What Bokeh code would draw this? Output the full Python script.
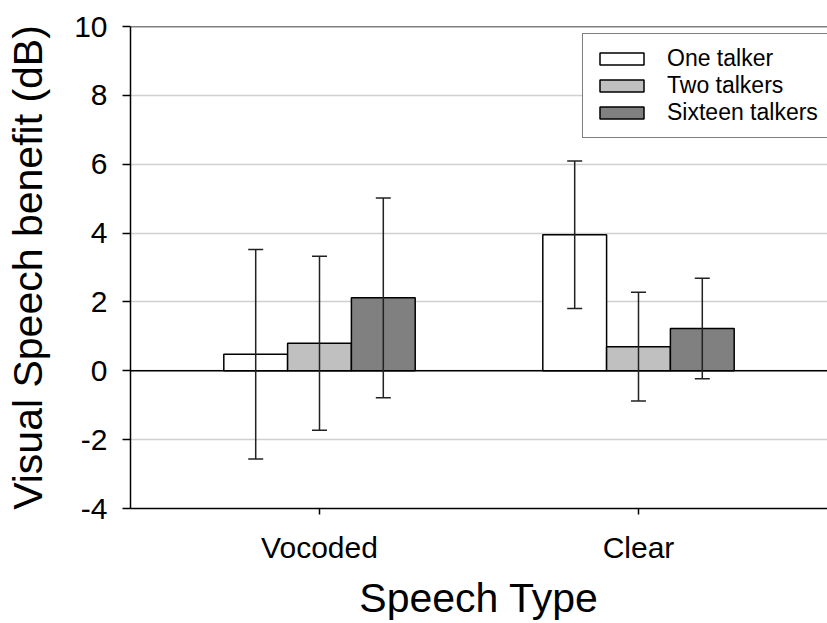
from bokeh.plotting import figure
from bokeh.models import (ColumnDataSource, FactorRange, Range1d, FixedTicker, Whisker,
                          TeeHead, Span, Legend, PrintfTickFormatter)
from bokeh.transform import dodge
from bokeh.embed import file_html
from bokeh.resources import INLINE

# ---- data ----
categories = ["Vocoded", "Clear"]
series_names = ["One talker", "Two talkers", "Sixteen talkers"]
one_talker = [0.48, 3.95]
one_talker_err = [3.04, 2.14]
two_talkers = [0.80, 0.70]
two_talkers_err = [2.53, 1.58]
sixteen_talkers = [2.12, 1.23]
sixteen_talkers_err = [2.90, 1.46]
y_ticks = [-4, -2, 0, 2, 4, 6, 8, 10]

FONT = "Liberation Sans"
colors = ["#ffffff", "#c0c0c0", "#808080"]
offsets = [-0.2, 0.0, 0.2]
means = [one_talker, two_talkers, sixteen_talkers]
errs = [one_talker_err, two_talkers_err, sixteen_talkers_err]

p = figure(x_range=FactorRange(*categories, range_padding=0.0925),
           y_range=Range1d(y_ticks[0], y_ticks[-1]),
           width=827, height=623,
           min_border_left=130, min_border_right=0, min_border_top=26, min_border_bottom=113,
           output_backend="svg", toolbar_location=None, tools="")
p.outline_line_color = None
p.background_fill_color = "white"
p.border_fill_color = "white"

# grid
p.xgrid.grid_line_color = None
p.ygrid.grid_line_color = "#d0d0d0"
p.ygrid.grid_line_width = 1.5
p.ygrid.ticker = FixedTicker(ticks=y_ticks)

# axes
p.yaxis.ticker = FixedTicker(ticks=y_ticks)
p.yaxis.formatter = PrintfTickFormatter(format="%d")
for ax in (p.xaxis[0], p.yaxis[0]):
    ax.axis_line_color = "black"
    ax.axis_line_width = 1.5
    ax.major_tick_line_color = "black"
    ax.major_tick_line_width = 1.5
    ax.minor_tick_line_color = None
    ax.major_tick_in = 0
    ax.major_label_text_font = FONT
    ax.major_label_text_font_size = "30px"
    ax.major_label_text_color = "black"
    ax.axis_label_text_font = FONT
    ax.axis_label_text_font_size = "41px"
    ax.axis_label_text_font_style = "normal"
    ax.axis_label_text_color = "black"

p.yaxis.major_tick_out = 8
p.yaxis.major_label_standoff = 15
p.yaxis.axis_label = "Visual Speech benefit (dB)"
p.yaxis.axis_label_standoff = 20

p.xaxis.major_tick_out = 6
p.xaxis.major_label_standoff = 16
p.xaxis.axis_label = "Speech Type"
p.xaxis.axis_label_standoff = 8

# top frame line and zero line
p.add_layout(Span(location=y_ticks[-1], dimension="width", line_color="black", line_width=1.5))
p.add_layout(Span(location=0, dimension="width", line_color="black", line_width=1.5,
                  level="underlay"))

legend_items = []
for name, m, e, c, off in zip(series_names, means, errs, colors, offsets):
    src = ColumnDataSource(dict(cat=categories, val=m,
                                upper=[a + b for a, b in zip(m, e)],
                                lower=[a - b for a, b in zip(m, e)]))
    r = p.vbar(x=dodge("cat", off, range=p.x_range), top="val", bottom=0, width=0.2,
               source=src, fill_color=c, line_color="black", line_width=1.5)
    legend_items.append((name, [r]))
    w = Whisker(base=dodge("cat", off, range=p.x_range), upper="upper", lower="lower",
                source=src, line_color="#222222", line_width=1.5, level="annotation",
                upper_head=TeeHead(size=15, line_color="#222222", line_width=1.5),
                lower_head=TeeHead(size=15, line_color="#222222", line_width=1.5))
    p.add_layout(w)

legend = Legend(items=legend_items, location=(452, 370),
                label_text_font=FONT, label_text_font_size="23px", label_text_color="black",
                glyph_width=55, glyph_height=15, label_standoff=18, spacing=0,
                padding=11, margin=0,
                border_line_color="black", border_line_width=1.5,
                background_fill_color="white", background_fill_alpha=1.0)
p.add_layout(legend)

open("out.html", "w").write(file_html(p, INLINE))
